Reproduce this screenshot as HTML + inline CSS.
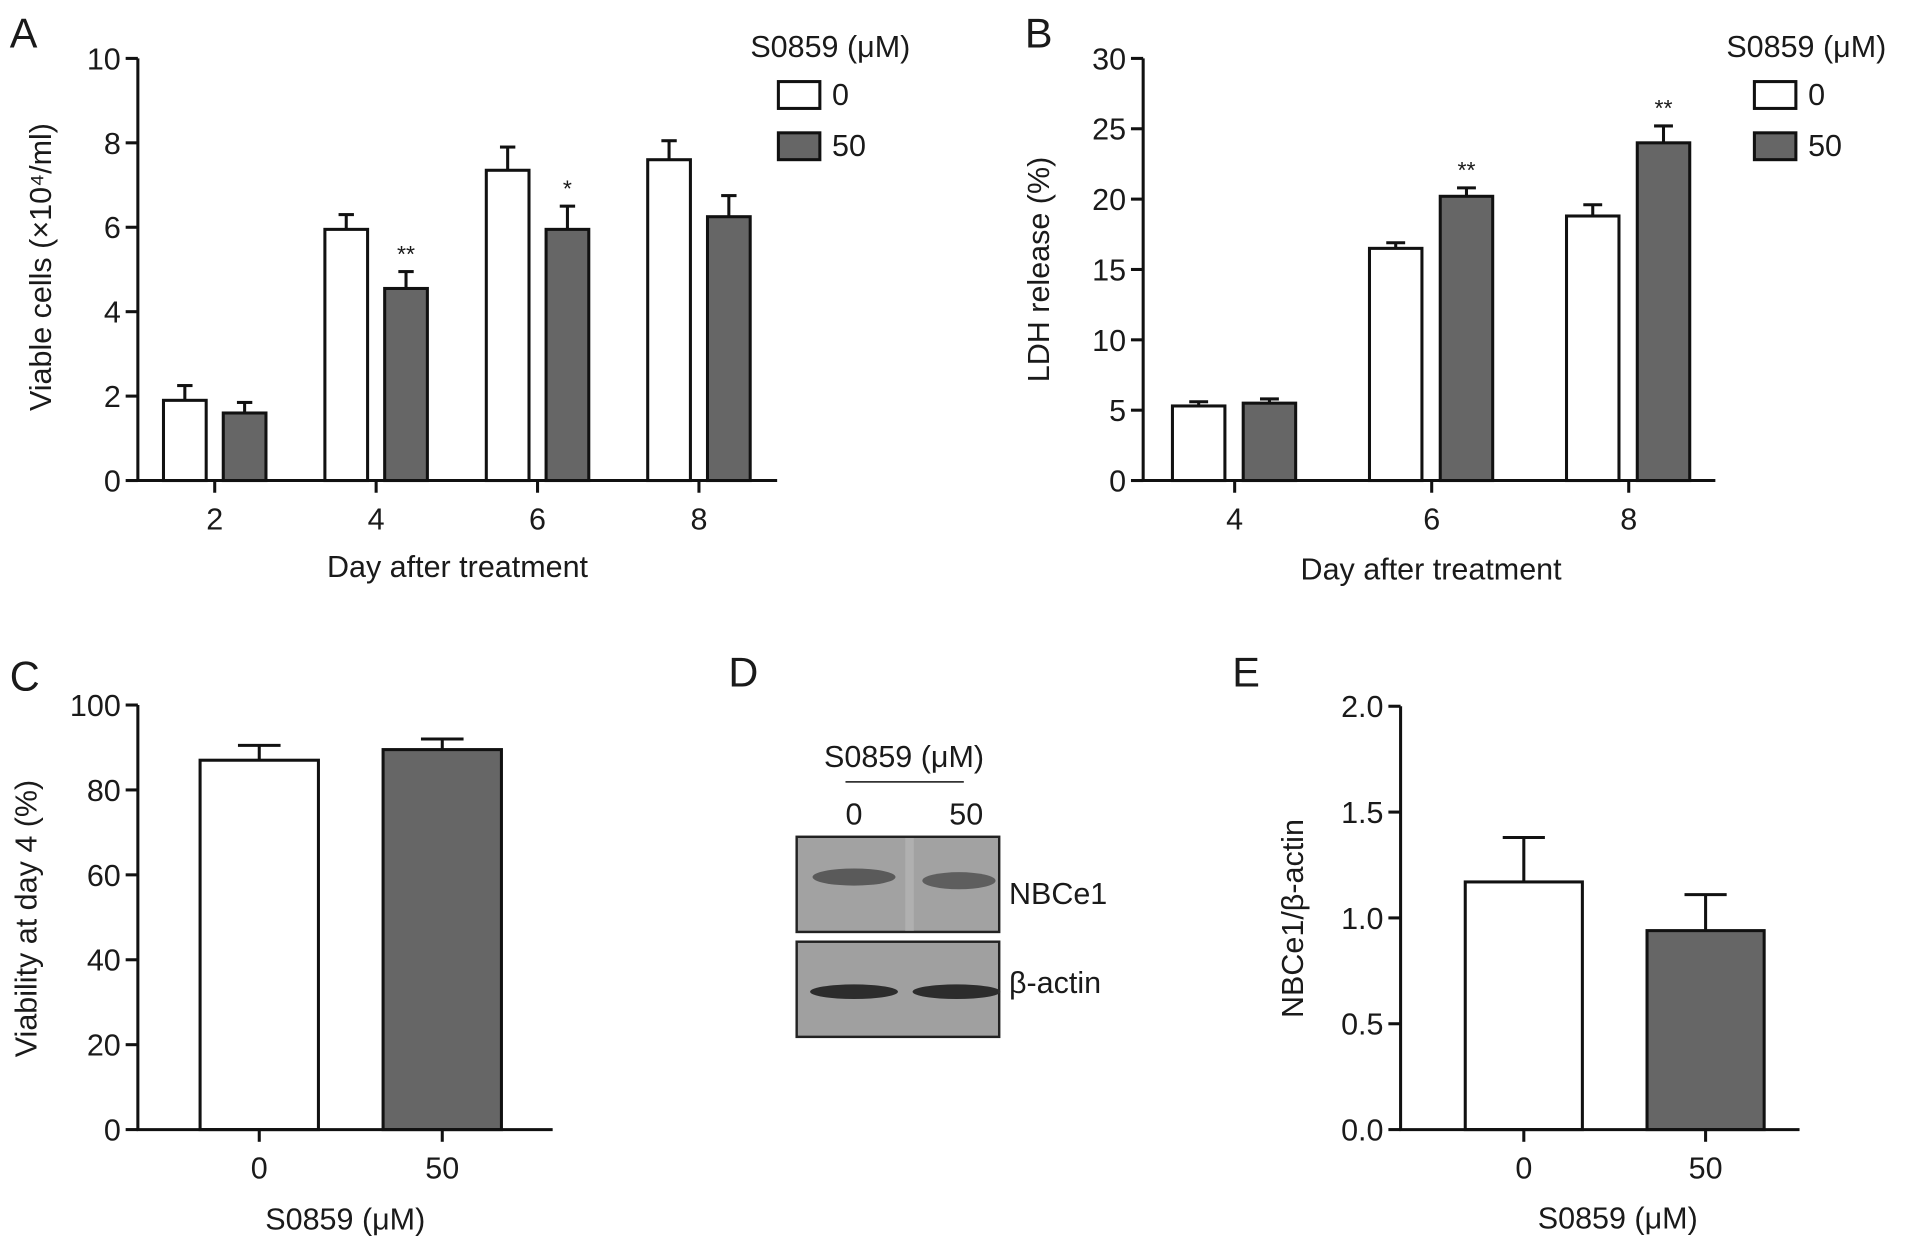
<!DOCTYPE html>
<html><head><meta charset="utf-8"><style>
html,body{margin:0;padding:0;background:#fff;}
svg{display:block;}
text{font-family:"Liberation Sans",Arial,sans-serif;fill:#1a1a1a;}
</style></head><body>
<svg id="fig" width="1913" height="1249" viewBox="0 0 1568 1022" xmlns="http://www.w3.org/2000/svg">
<g id="root"></g>
</svg>
<script>
// Panel A data
const aDays = ["2","4","6","8"];
const aCtrl = [1.9, 5.95, 7.35, 7.6];
const aCtrlErr = [0.35, 0.35, 0.55, 0.45];
const aDrug = [1.6, 4.55, 5.95, 6.25];
const aDrugErr = [0.25, 0.4, 0.55, 0.5];
const aSig = ["", "**", "*", ""];
const aTicks = [0,2,4,6,8,10];
// Panel B data
const bDays = ["4","6","8"];
const bCtrl = [5.3, 16.5, 18.8];
const bCtrlErr = [0.3, 0.4, 0.8];
const bDrug = [5.5, 20.2, 24.0];
const bDrugErr = [0.3, 0.6, 1.2];
const bSig = ["", "**", "**"];
const bTicks = [0,5,10,15,20,25,30];
// Panel C data
const cCats = ["0","50"];
const cVals = [87, 89.5];
const cErr = [3.5, 2.5];
const cTicks = [0,20,40,60,80,100];
// Panel E data
const eCats = ["0","50"];
const eVals = [1.17, 0.94];
const eErr = [0.21, 0.17];
const eTicks = ["0.0","0.5","1.0","1.5","2.0"];

const NS="http://www.w3.org/2000/svg";
const root=document.getElementById('root');
const FS=25;
function el(tag,attrs,parent,txt){const e=document.createElementNS(NS,tag);for(const k in attrs)e.setAttribute(k,attrs[k]);if(txt!==undefined)e.textContent=txt;(parent||root).appendChild(e);return e;}
const GRAY="#666666";
function axisY(x,y0,y1,vmax,ticks,labels,name){
  const g=el('g',{});
  
  
  const sy=v=>y0-(v/vmax)*(y0-y1);
  el('line',{x1:x,y1:y0+1,x2:x,y2:y1,stroke:'#111','stroke-width':2.5},g);
  ticks.forEach((t,i)=>{const yy=sy(+t);
    el('line',{x1:x-10,y1:yy,x2:x,y2:yy,stroke:'#111','stroke-width':2.5},g);
    const tx=el('text',{x:x-14,y:yy+9,'text-anchor':'end','font-size':FS},g,labels?labels[i]:String(t));
    
    
  });
  return sy;
}
function bar(g,x,w,v,err,sy,fill,name){
  const y0=sy(0),yt=sy(v),ye=sy(v+err);
  el('line',{x1:x+w/2,y1:yt,x2:x+w/2,y2:ye,stroke:'#111','stroke-width':2.5},g);
  el('line',{x1:x+w/2-w*0.18,y1:ye,x2:x+w/2+w*0.18,y2:ye,stroke:'#111','stroke-width':2.5},g);
  const r=el('rect',{x:x,y:yt,width:w,height:y0-yt,fill:fill,stroke:'#111','stroke-width':2.5},g);
  
  
}
function xAxis(x0,x1,y,ticksX,labels,name){
  const g=el('g',{});
  
  
  el('line',{x1:x0-1,y1:y,x2:x1,y2:y,stroke:'#111','stroke-width':2.5},g);
  ticksX.forEach((tx,i)=>{
    el('line',{x1:tx,y1:y,x2:tx,y2:y+10,stroke:'#111','stroke-width':2.5},g);
    const t=el('text',{x:tx,y:y+40,'text-anchor':'middle','font-size':FS},g,labels[i]);
    
    
  });
}
function txt(x,y,s,size,name,anchor,rot){
  const a={x:x,y:y,'font-size':size,'text-anchor':anchor||'start'};
  if(rot)a.transform=`rotate(-90 ${x} ${y})`;
  const t=el('text',a,root,s);
  
  
  return t;
}
function legend(x,y,name){
  const g=el('g',{});
  
  
  el('text',{x:x,y:y,'font-size':FS},g,'S0859 (\u03bcM)');
  el('rect',{x:x+23,y:y+20,width:34,height:22,fill:'#fff',stroke:'#111','stroke-width':2.5},g);
  el('text',{x:x+67,y:y+39,'font-size':FS},g,'0');
  el('rect',{x:x+23,y:y+62,width:34,height:22,fill:GRAY,stroke:'#111','stroke-width':2.5},g);
  el('text',{x:x+67,y:y+81,'font-size':FS},g,'50');
}

// Panel A
txt(8,38,'A',34,'panel-a-label');
{ const sy=axisY(113,393,47,10,aTicks,null,'panel-a');
  const g=el('g',{});  
  const centers=[];
  aDays.forEach((d,i)=>{const gx=134+i*132.3;
    bar(g,gx,35,aCtrl[i],aCtrlErr[i],sy,'#fff','bar-a-ctrl-day'+d);
    bar(g,gx+49,35,aDrug[i],aDrugErr[i],sy,GRAY,'bar-a-drug-day'+d);
    if(aSig[i]) el('text',{x:gx+66.5,y:sy(aDrug[i]+aDrugErr[i])-8,'text-anchor':'middle','font-size':19},g,aSig[i]);
    centers.push(gx+42);
  });
  xAxis(113,637,393,centers,aDays,'panel-a');
  txt(375,472,'Day after treatment',FS,'panel-a-x-title','middle');
  txt(42,218,'Viable cells (\u00d710\u2074/ml)',FS,'panel-a-y-title','middle',true);
  legend(615,46,'panel-a-legend');
}
// Panel B
txt(840,38,'B',34,'panel-b-label');
{ const sy=axisY(937,393,47,30,bTicks,null,'panel-b');
  const g=el('g',{});  
  const centers=[];
  bDays.forEach((d,i)=>{const gx=961+i*161.5;
    bar(g,gx,43,bCtrl[i],bCtrlErr[i],sy,'#fff','bar-b-ctrl-day'+d);
    bar(g,gx+58,43,bDrug[i],bDrugErr[i],sy,GRAY,'bar-b-drug-day'+d);
    if(bSig[i]) el('text',{x:gx+79.5,y:sy(bDrug[i]+bDrugErr[i])-8,'text-anchor':'middle','font-size':19},g,bSig[i]);
    centers.push(gx+51);
  });
  xAxis(937,1406,393,centers,bDays,'panel-b');
  txt(1173,474,'Day after treatment',FS,'panel-b-x-title','middle');
  txt(860,220,'LDH release (%)',FS,'panel-b-y-title','middle',true);
  legend(1415,46,'panel-b-legend');
}
// Panel C
txt(8,565,'C',34,'panel-c-label');
{ const sy=axisY(113,925,577,100,cTicks,null,'panel-c');
  const g=el('g',{});  
  const centers=[];
  cCats.forEach((c,i)=>{const gx=164+i*150;
    bar(g,gx,97,cVals[i],cErr[i],sy,i?GRAY:'#fff','bar-c-'+c);
    centers.push(gx+48.5);
  });
  xAxis(113,453,925,centers,cCats,'panel-c');
  txt(283,1007,'S0859 (\u03bcM)',FS,'panel-c-x-title','middle');
  txt(30,752,'Viability at day 4 (%)',FS,'panel-c-y-title','middle',true);
}
// Panel D
txt(597,562,'D',34,'panel-d-label');
txt(741,628,'S0859 (\u03bcM)',FS,'blot-header','middle');
el('line',{x1:693,y1:640,x2:790,y2:640,stroke:'#333','stroke-width':1.5});
txt(700,675,'0',FS,'blot-lane-0','middle');
txt(792,675,'50',FS,'blot-lane-50','middle');
{ const g=el('g',{});  
  el('rect',{x:653,y:685,width:166,height:78,fill:'#a2a2a2',stroke:'#222','stroke-width':2},g);
  el('rect',{x:742,y:686,width:7,height:76,fill:'#b0b0b0'},g);
  el('ellipse',{cx:700,cy:718,rx:34,ry:7,fill:'#5a5a5a'},g);
  el('ellipse',{cx:786,cy:721,rx:30,ry:7,fill:'#5e5e5e'},g);
  el('rect',{x:653,y:771,width:166,height:78,fill:'#a0a0a0',stroke:'#222','stroke-width':2},g);
  el('ellipse',{cx:700,cy:812,rx:36,ry:6,fill:'#2c2c2c'},g);
  el('ellipse',{cx:784,cy:812,rx:36,ry:6,fill:'#2c2c2c'},g);
}
txt(827,740,'NBCe1',FS,'blot-label-nbce1');
txt(827,813,'\u03b2-actin',FS,'blot-label-actin');
// Panel E
txt(1010,562,'E',34,'panel-e-label');
{ const sy=axisY(1148,925,578,2.0,eTicks.map(Number),eTicks,'panel-e');
  const g=el('g',{});  
  const centers=[];
  eCats.forEach((c,i)=>{const gx=1201+i*149;
    bar(g,gx,96,eVals[i],eErr[i],sy,i?GRAY:'#fff','bar-e-'+c);
    centers.push(gx+48);
  });
  xAxis(1148,1475,925,centers,eCats,'panel-e');
  txt(1326,1006,'S0859 (\u03bcM)',FS,'panel-e-x-title','middle');
  txt(1068,752,'NBCe1/\u03b2-actin',FS,'panel-e-y-title','middle',true);
}
</script>
</body></html>
